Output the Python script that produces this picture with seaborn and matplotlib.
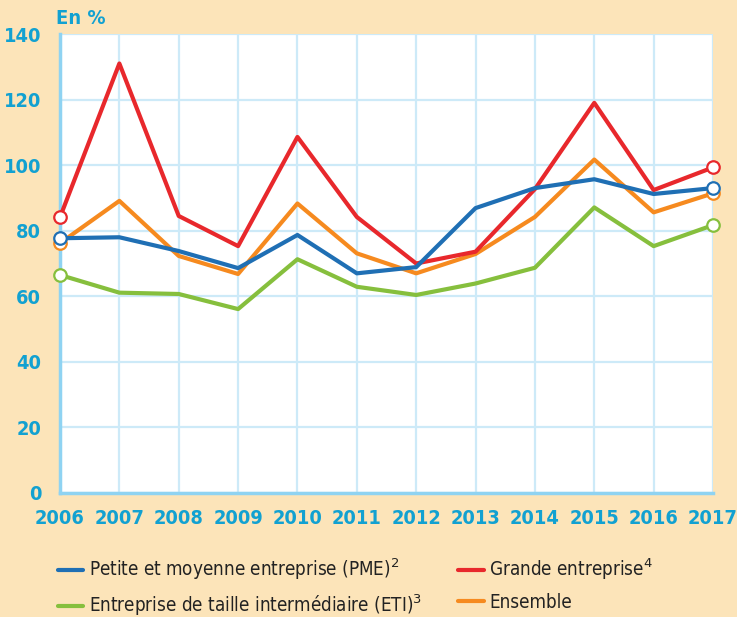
import matplotlib
matplotlib.use('Agg')
import matplotlib.pyplot as plt
from matplotlib import font_manager
from matplotlib.lines import Line2D
import pandas as pd
import seaborn as sns

# Data
years = list(range(2006, 2018))
pme = [77.7, 78.0, 73.8, 68.6, 78.7, 67.0, 68.9, 86.9, 93.0, 95.7, 91.2, 93.0]
grande = [84.1, 131.0, 84.5, 75.3, 108.6, 84.2, 70.0, 73.6, 92.7, 119.0, 92.4, 99.3]
eti = [66.5, 61.1, 60.7, 56.1, 71.3, 62.9, 60.4, 63.9, 68.7, 87.1, 75.3, 81.7]
ensemble = [76.2, 89.1, 72.3, 66.8, 88.3, 73.1, 67.0, 72.9, 84.2, 101.7, 85.6, 91.4]

labels = {
    'pme': 'Petite et moyenne entreprise (PME)$^{2}$',
    'grande': 'Grande entreprise$^{4}$',
    'eti': 'Entreprise de taille intermédiaire (ETI)$^{3}$',
    'ensemble': 'Ensemble',
}
colors = {'pme': '#1f6fb4', 'grande': '#e8282c', 'eti': '#86bf3d', 'ensemble': '#f68a1f'}

df = pd.DataFrame({'year': years, 'pme': pme, 'grande': grande, 'eti': eti, 'ensemble': ensemble})
df_long = df.melt(id_vars='year', var_name='serie', value_name='value')

bg = '#fce4b9'
tick_col = '#12a1d1'
grid_col = '#cdeaf8'
spine_col = '#8fd3f2'


def find_font(words):
    # look for an installed narrow / condensed face
    for f in font_manager.fontManager.ttflist:
        base = f.fname.split('/')[-1]
        if all(w in base for w in words):
            return f.fname
    return None


cond_bold = find_font(['Condensed', 'Bold']) or find_font(['Narrow', 'Bold'])
cond_reg = None
for f in font_manager.fontManager.ttflist:
    base = f.fname.split('/')[-1]
    if ('Condensed' in base or 'Narrow' in base) and 'Bold' not in base and 'Oblique' not in base \
            and 'Italic' not in base:
        cond_reg = f.fname
        break

if cond_bold:
    tick_fp = font_manager.FontProperties(fname=cond_bold, size=14.3)
    title_fp = font_manager.FontProperties(fname=cond_bold, size=14.5)
else:
    tick_fp = font_manager.FontProperties(family='DejaVu Sans', weight='bold', size=12)
    title_fp = font_manager.FontProperties(family='DejaVu Sans', weight='bold', size=13)
if cond_reg:
    leg_fp = font_manager.FontProperties(fname=cond_reg, size=13.5)
else:
    leg_fp = font_manager.FontProperties(family='Lato', size=12.5)

sns.set_style('white')
plt.rcParams['font.family'] = ['DejaVu Sans']

fig = plt.figure(figsize=(7.37, 6.17), dpi=100, facecolor=bg)
ax = fig.add_axes([60 / 737, 1 - 493 / 617, 653 / 737, 459 / 617])
ax.set_facecolor('white')

# draw order: green, orange, red, blue
for key in ['eti', 'ensemble', 'grande', 'pme']:
    sub = df_long[df_long['serie'] == key]
    sns.lineplot(data=sub, x='year', y='value', ax=ax, color=colors[key],
                 linewidth=3.0, legend=False, zorder=3)
    ends = sub.iloc[[0, -1]]
    ax.plot(ends['year'], ends['value'], 'o', markersize=9, markerfacecolor='white',
            markeredgecolor=colors[key], markeredgewidth=1.6, zorder=4, clip_on=False)

ax.set_xlim(2006, 2017)
ax.set_ylim(0, 140)
ax.set_xticks(years)
ax.set_yticks(range(0, 141, 20))
ax.grid(True, color=grid_col, linewidth=1.6)
ax.set_axisbelow(True)
ax.set_xlabel('')
ax.set_ylabel('')

for side in ['top', 'right']:
    ax.spines[side].set_visible(False)
for side in ['left', 'bottom']:
    ax.spines[side].set_color(spine_col)
    ax.spines[side].set_linewidth(2.5)
    ax.spines[side].set_zorder(2)

ax.tick_params(axis='y', colors=spine_col, length=8.5, width=1.6, direction='out',
               labelcolor=tick_col, pad=5)
ax.tick_params(axis='x', colors=spine_col, length=6.5, width=1.6, direction='out',
               labelcolor=tick_col, pad=5)
for lab in ax.get_xticklabels() + ax.get_yticklabels():
    lab.set_fontproperties(tick_fp)

fig.text(56 / 737, 1 - 19 / 617, 'En %', color=tick_col, fontproperties=title_fp,
         va='center', ha='left')

handles = [Line2D([0], [0], color=colors[k], linewidth=3) for k in ['pme', 'eti', 'grande', 'ensemble']]
leg_labels = [labels[k] for k in ['pme', 'eti', 'grande', 'ensemble']]
leg = fig.legend(handles, leg_labels, loc='upper left', bbox_to_anchor=(41 / 737, 1 - 540 / 617),
                 ncol=2, frameon=False, handlelength=1.35, handletextpad=0.3, columnspacing=1.95,
                 labelspacing=0.55, prop=leg_fp)
for t in leg.get_texts():
    t.set_color('#222222')

fig.savefig('out.png', dpi=100, facecolor=bg)
